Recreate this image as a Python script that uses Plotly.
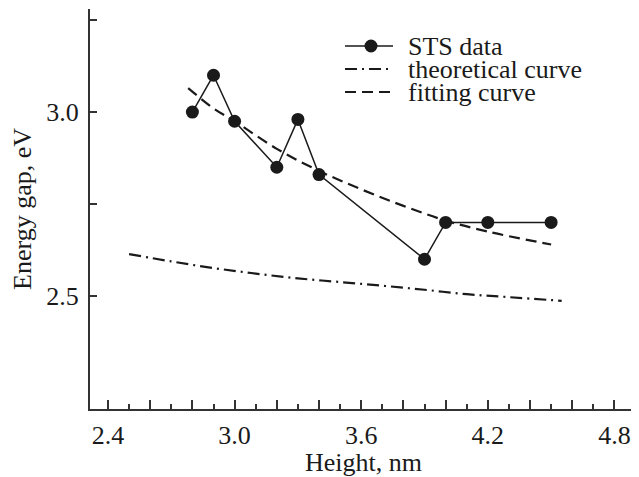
import plotly.graph_objects as go

# STS data
sts_x = [2.8, 2.9, 3.0, 3.2, 3.3, 3.4, 3.9, 4.0, 4.2, 4.5]
sts_y = [3.00, 3.10, 2.975, 2.85, 2.98, 2.83, 2.60, 2.70, 2.70, 2.70]

# theoretical curve
theo_x = [2.5, 2.7, 2.9, 3.1, 3.3, 3.5, 3.7, 3.9, 4.1, 4.3, 4.55]
theo_y = [2.614, 2.594, 2.576, 2.561, 2.548, 2.538, 2.528, 2.517, 2.505, 2.497, 2.487]

# fitting curve
fit_x = [2.78, 2.9, 3.0, 3.2, 3.4, 3.6, 3.8, 4.0, 4.2, 4.5]
fit_y = [3.065, 3.01, 2.975, 2.90, 2.84, 2.79, 2.745, 2.705, 2.675, 2.64]

x_tickvals = [2.4, 2.6, 2.8, 3.0, 3.2, 3.4, 3.6, 3.8, 4.0, 4.2, 4.4, 4.6, 4.8]
x_ticktext = ["2.4", "", "", "3.0", "", "", "3.6", "", "", "4.2", "", "", "4.8"]
y_tickvals = [2.5, 2.75, 3.0, 3.25]
y_ticktext = ["2.5", "", "3.0", ""]

legend_names = ["STS data", "theoretical curve", "fitting curve"]

INK = "#1a1a1a"
AX = "#333333"
FONT = "Liberation Serif"
FS = 26
DASHDOT = "12px,5px,2px,5px"
DASH = "11px,6px"

# the page body has an 8px default margin, so the figure is drawn 8px in
OFF = 8
W, H = 639 - OFF, 477 - OFF
L, R, T = 90 - OFF, 2, 9 - OFF
B = H - T - 400
pw, ph = W - L - R, H - T - B

fig = go.Figure()
fig.add_trace(go.Scatter(
    x=sts_x, y=sts_y, mode="lines+markers", name=legend_names[0],
    line=dict(color=INK, width=1.5),
    marker=dict(color=INK, size=13, symbol="circle"),
))
fig.add_trace(go.Scatter(
    x=theo_x, y=theo_y, mode="lines", name=legend_names[1],
    line=dict(color=INK, width=2.2, dash=DASHDOT, shape="spline"),
))
fig.add_trace(go.Scatter(
    x=fit_x, y=fit_y, mode="lines", name=legend_names[2],
    line=dict(color=INK, width=2.2, dash=DASH, shape="spline"),
))

# ---- manual legend (compact line spacing like the original) ----
def px(xp):  # page pixel -> paper fraction
    return (xp - OFF - L) / pw

def py(yp):
    return (T + ph - (yp - OFF)) / ph

rows = [46, 69, 92]
styles = [dict(dash="solid", width=1.5), dict(dash=DASHDOT, width=2.2), dict(dash=DASH, width=2.2)]
shapes = []
annotations = []
for name, row, st in zip(legend_names, rows, styles):
    shapes.append(dict(type="line", xref="paper", yref="paper",
                       x0=px(345), x1=px(393), y0=py(row), y1=py(row),
                       line=dict(color=INK, width=st["width"], dash=st["dash"])))
    annotations.append(dict(text=name, xref="paper", yref="paper",
                            x=px(406), y=py(row + 1), xanchor="left", yanchor="middle",
                            showarrow=False, font=dict(family=FONT, size=FS, color=INK)))
shapes.append(dict(type="circle", xref="paper", yref="paper",
                   x0=px(364.5), x1=px(377.5), y0=py(rows[0] + 6.5), y1=py(rows[0] - 6.5),
                   fillcolor=INK, line=dict(color=INK, width=0)))

fig.update_layout(
    width=W, height=H,
    margin=dict(l=L, r=R, t=T, b=B),
    paper_bgcolor="white", plot_bgcolor="white",
    font=dict(family=FONT, size=FS, color=INK),
    showlegend=False,
    shapes=shapes,
    annotations=annotations,
    xaxis=dict(
        range=[2.3147, 4.907], showgrid=False, zeroline=False, automargin=False,
        showline=True, linecolor=AX, linewidth=2,
        tickmode="array", tickvals=x_tickvals, ticktext=x_ticktext,
        ticks="inside", ticklen=9, tickwidth=2, tickcolor=AX,
        minor=dict(dtick=0.1, tick0=2.3, ticks="inside", ticklen=5, tickwidth=2, tickcolor=AX),
        tickfont=dict(family=FONT, size=FS, color=INK), ticklabelstandoff=2,
        title=dict(text="Height, nm", font=dict(family=FONT, size=FS, color=INK), standoff=2),
    ),
    yaxis=dict(
        range=[2.193, 3.280], showgrid=False, zeroline=False, automargin=False,
        showline=True, linecolor=AX, linewidth=2,
        tickmode="array", tickvals=y_tickvals, ticktext=y_ticktext,
        ticks="inside", ticklen=7, tickwidth=2, tickcolor=AX,
        tickfont=dict(family=FONT, size=FS, color=INK), ticklabelstandoff=4,
        title=dict(text="Energy gap, eV", font=dict(family=FONT, size=FS, color=INK), standoff=11),
    ),
)

fig.write_html("out.html")
